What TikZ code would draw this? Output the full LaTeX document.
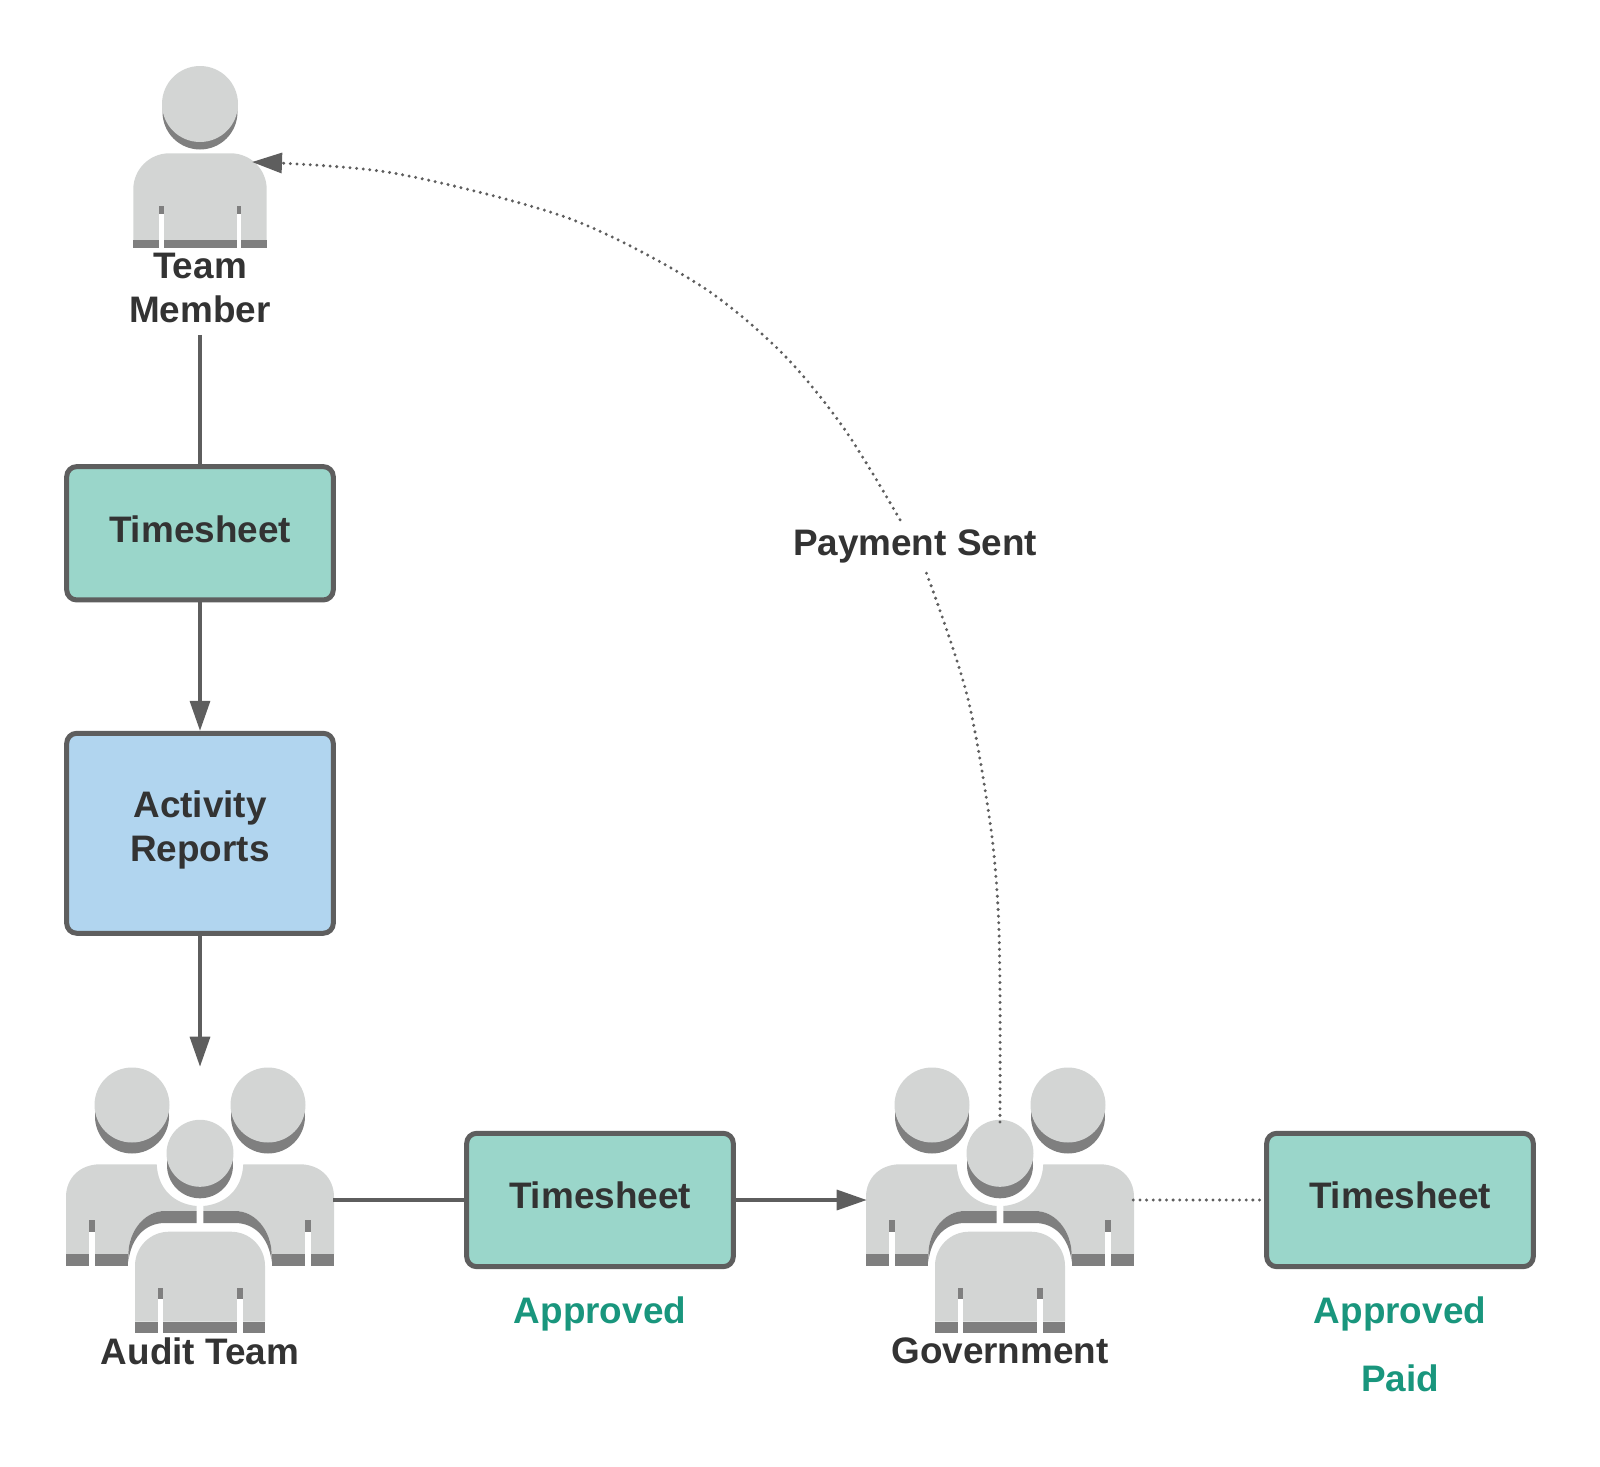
\documentclass[tikz,border=0pt]{standalone}
\usepackage{fontspec}
\setmainfont{Liberation Sans}
\usetikzlibrary{arrows.meta}
\definecolor{linegray}{HTML}{5E5E5E}
\definecolor{bodylight}{HTML}{D3D5D4}
\definecolor{bodydark}{HTML}{7F7F7F}
\definecolor{sheetfill}{HTML}{9AD6CA}
\definecolor{reportfill}{HTML}{B1D5EF}
\definecolor{inktext}{HTML}{333333}
\definecolor{okgreen}{HTML}{19967D}
\newcommand{\headshape}[4]{% x, y, radius, shadow drop
\fill[bodydark] (#1,#2+#4) circle (#3-0.5);
\fill[bodylight] (#1,#2) circle (#3);
}
\newcommand{\slitshape}[4]{% x1, x2, slit top, white from; white runs to the bottom in \slitend
\fill[bodydark] (#1,#3) rectangle (#2,#4);
\fill[white] (#1,#4) rectangle (#2,\slitend);
}
\newcommand{\torsoshape}[5]{% half width, top, light end, bottom, corner
\fill[bodylight] (-#1,#3) -- (-#1,#2+#5) arc (180:270:#5) -- (#1-#5,#2) arc (270:360:#5) -- (#1,#3) -- cycle;
\fill[bodydark] (-#1,#3) rectangle (#1,#4);
}
\tikzset{
  sheetbox/.style={draw=linegray,line width=0.1cm,rounded corners=0.2cm,fill=sheetfill,
    minimum width=5.333cm,minimum height=2.667cm,inner sep=0pt,text=inktext,text depth=0.18cm,
    font=\bfseries\fontsize{21}{25}\selectfont},
  reportbox/.style={sheetbox,fill=reportfill,minimum height=4cm,align=center,text depth=0.275cm},
  tag/.style={text=inktext,font=\bfseries\fontsize{21}{25}\selectfont,align=center,inner sep=0pt},
  oktag/.style={tag,text=okgreen},
  flow/.style={draw=linegray,line width=1.9pt},
  flowtip/.style={-{Triangle[length=0.6cm,width=0.4cm]}},
  dots/.style={draw=linegray,line width=1.9pt,line cap=round,dash pattern=on 0pt off 3.78pt},
  holder/.style={inner sep=0pt,outer sep=0pt,minimum width=5.333cm,minimum height=5.333cm},
  teammate/.pic={
    \def\slitend{90.7}
    \headshape{0}{-53}{38}{8}
    \torsoshape{66.7}{-3.7}{83}{90.7}{36}
    \slitshape{-40.7}{-36}{49}{57}
    \slitshape{36.7}{41}{49}{57}
  },
  crowd/.pic={
    \def\slitend{65.7}
    \foreach \s in {1,-1}{
      \begin{scope}[xscale=\s]
        \headshape{-68}{-95}{37.5}{11.5}
        \fill[bodylight] (-134,54) -- (-134,-3) .. controls (-134,-22) and (-120,-35.7) .. (-100,-35.7) -- (-43.3,-35.7)
          .. controls (-42,-10) and (-25,4) .. (-3.3,6) -- (-3.3,11) -- (-35,11) .. controls (-55,11) and (-71,30) .. (-71.7,54) -- cycle;
        \fill[bodydark] (-3.3,11) -- (-35,11) .. controls (-55,11) and (-71,30) .. (-71.7,54) -- (-71.7,62)
          .. controls (-69,38) and (-55,23) .. (-35,23) -- (-3.3,23) -- cycle;
        \fill[bodydark] (-134,54) rectangle (-71.7,65.7);
        \slitshape{-110.7}{-105}{20}{31.7}
      \end{scope}
    }
    \def\slitend{133.4}
    \headshape{0}{-46.7}{33.5}{12}
    \torsoshape{65}{31.7}{121.7}{133.4}{34}
    \slitshape{-41.7}{-36.7}{87.7}{99.3}
    \slitshape{37.3}{42.7}{87.7}{99.3}
  }
}
\begin{document}
\begin{tikzpicture}[x=0.02cm,y=-0.02cm]
\useasboundingbox (0,0) rectangle (1600,1467);
% people
\node[holder,minimum height=3.62cm] (team) at (200,157) {};
\node[holder] (audit) at (200,1200) {};
\node[holder] (gov) at (1000,1200) {};
\pic at (200,157) {teammate};
\pic at (audit) {crowd};
\pic at (gov) {crowd};
\coordinate (govhead) at (1000,1122);
\coordinate (teamarm) at (252,162);
% boxes
\node[sheetbox] (ts1) at (200,533.3) {Timesheet};
\node[reportbox] (reports) at (200,833.3) {Activity\\Reports};
\node[sheetbox] (ts2) at (600,1200) {Timesheet};
\node[sheetbox] (ts3) at (1400,1200) {Timesheet};
% labels
\node[tag,minimum height=1.86cm] (teamlbl) at (200,288) {Team\\Member};
\node[tag] (auditlbl) at (200,1351) {Audit Team};
\node[tag] (govlbl) at (1000,1351) {Government};
\node[oktag] (ok2) at (600,1314) {Approved};
\node[oktag] (ok3) at (1400,1314) {Approved};
\node[oktag] (paid) at (1400,1378) {Paid};
% connectors
\draw[flow] (teamlbl.south) -- (ts1.north);
\draw[flow,flowtip] (ts1.south) -- (reports.north);
\draw[flow,flowtip] (reports.south) -- (audit.north);
\draw[flow] (audit.east) -- (ts2.west);
\draw[flow,flowtip] (ts2.east) -- (gov.west);
\draw[dots] (gov.east) -- (ts3.west);
\draw[dots,-{Triangle[length=0.6cm,width=0.4cm]}] plot[smooth] coordinates {(govhead) (1000,993) (998,907) (990,822)
  (967,695) (926,572) (903,525) (843,427) (780,351) (698,284) (568,218) (393,173) (teamarm)};
\node[tag,fill=white,inner xsep=0.16cm,inner ysep=0.13cm] (paylbl) at (915,546) {Payment Sent};
\end{tikzpicture}
\end{document}
